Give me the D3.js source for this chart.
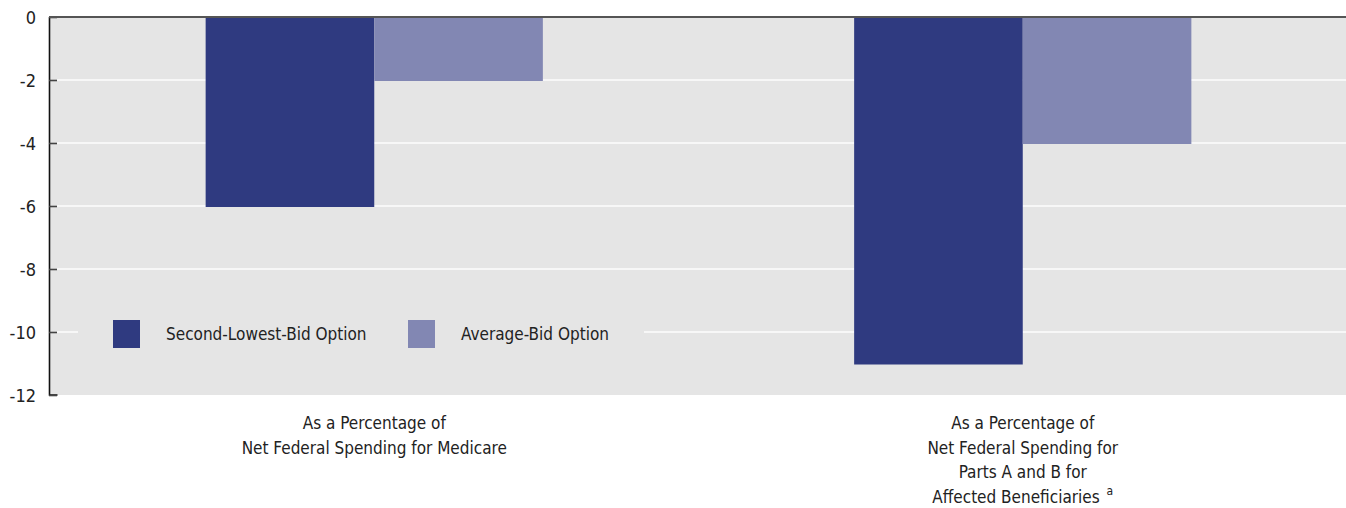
<!DOCTYPE html>
<html>
<head>
<meta charset="utf-8">
<script src="https://cdn.jsdelivr.net/npm/d3@7"></script>
<style>
body{margin:0;background:#fff;}
svg text{font-family:"DejaVu Sans Condensed","Liberation Sans Narrow",sans-serif;fill:#222;}
</style>
</head>
<body>
<svg id="canvas" width="1346" height="508"></svg>
<script>
// data
let categories=["medicare","partsAB"];
let categoryLines=[["As a Percentage of","Net Federal Spending for Medicare"],["As a Percentage of","Net Federal Spending for","Parts A and B for","Affected Beneficiaries"]];
let seriesNames=["Second-Lowest-Bid Option","Average-Bid Option"];
let secondLowest=[-6,-11];
let averageBid=[-2,-4];
let yTicks=[0,-2,-4,-6,-8,-10,-12];

let colors=["#2f3a80","#8287b3"];
let w=1346,h=508;
let padL=49,padR=1346,padT=17,padB=395;

let canvas=d3.select("#canvas");

let xScale=d3.scaleBand().domain(categories).range([padL+1,padR+1]).paddingInner(0.48).paddingOuter(0.24);
let xSub=d3.scaleBand().domain(seriesNames).range([0,xScale.bandwidth()]);
let yScale=d3.scaleLinear().domain([0,-12]).range([padT,padB]);

// plot background
canvas.append("rect").attr("x",padL).attr("y",padT).attr("width",padR-padL).attr("height",padB-padT).attr("fill","#e5e5e5");

// gridlines
canvas.append("g").selectAll("line").data(yTicks.filter(d=>d!==0&&d!==-12)).enter().append("line")
  .attr("x1",padL+8).attr("x2",padR).attr("y1",d=>yScale(d)).attr("y2",d=>yScale(d))
  .attr("stroke","#f7f7f7").attr("stroke-width",2);

// bars
let rows=categories.map((c,i)=>[{cat:c,s:seriesNames[0],v:secondLowest[i]},{cat:c,s:seriesNames[1],v:averageBid[i]}]).flat();
canvas.append("g").selectAll("rect").data(rows).enter().append("rect")
  .attr("x",d=>xScale(d.cat)+xSub(d.s)).attr("width",xSub.bandwidth())
  .attr("y",yScale(0)).attr("height",d=>yScale(d.v)-yScale(0)+1)
  .attr("fill",d=>colors[seriesNames.indexOf(d.s)]);

// legend (background hides the gridline behind it)
let legend=canvas.append("g");
legend.append("rect").attr("x",78).attr("y",308).attr("width",566).attr("height",50).attr("fill","#e5e5e5");
let legendX=[113,408];
seriesNames.forEach((s,i)=>{
  legend.append("rect").attr("x",legendX[i]).attr("y",320).attr("width",27).attr("height",28).attr("fill",colors[i]);
  legend.append("text").attr("x",legendX[i]+53).attr("y",340).style("font-size","17px").text(s);
});

// y axis
let yAxis=d3.axisLeft(yScale).tickValues(yTicks).tickSize(-8).tickPadding(13).tickFormat(d=>String(d));
let ya=canvas.append("g").attr("transform","translate("+padL+",0)").call(yAxis);
ya.select(".domain").attr("stroke","#111").attr("stroke-width",1.6).attr("d","M0.5,"+padT+"V"+padB+"h8");
ya.selectAll(".tick line").attr("stroke","#444").attr("stroke-width",1.6);
ya.selectAll(".tick text").style("font-size","18px").style("font-family",'"DejaVu Sans Condensed",sans-serif').attr("fill","#222").attr("dy","0.35em");

// zero line on top
canvas.append("line").attr("x1",padL).attr("x2",padR).attr("y1",yScale(0)).attr("y2",yScale(0)).attr("stroke","#555").attr("stroke-width",2);

// category labels
categories.forEach((c,i)=>{
  let cx=xScale(c)+xScale.bandwidth()/2;
  let t=canvas.append("text").attr("text-anchor","middle").attr("x",cx).attr("y",429).style("font-size","17px");
  categoryLines[i].forEach((line,j)=>{
    let ts=t.append("tspan").attr("x",cx).attr("dy",j===0?0:24.5).text(line);
    if(i===1&&j===3){ts.append("tspan").attr("dy",-8).style("font-size","12px").text("\u00a0 a");}
  });
});
</script>
</body>
</html>
